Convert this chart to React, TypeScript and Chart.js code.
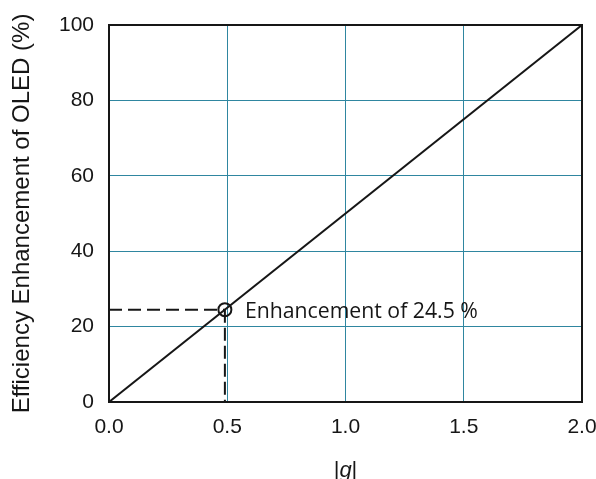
import React, { useEffect, useRef } from "react";
import { Chart, registerables } from "chart.js";

Chart.register(...registerables);

// ---- data ----
const lineX = [0, 2];
const lineY = [0, 100];
const markerX = 0.49;
const markerY = 24.5;
const xTicks = [0, 0.5, 1.0, 1.5, 2.0];
const yTicks = [0, 20, 40, 60, 80, 100];
const annotationText = "Enhancement of 24.5 %";
const yTitle = "Efficiency Enhancement of OLED (%)";
const xTitleParts = ["|", "g", "|"];

const GRID = "#2f86a0";
const INK = "#161616";
const SANS = '"Liberation Sans", Arial, sans-serif';

const overlay = {
  id: "overlay",
  afterDatasetsDraw(chart: any) {
    const { ctx, chartArea: a, scales } = chart;
    ctx.save();
    // box frame
    ctx.strokeStyle = INK;
    ctx.lineWidth = 2;
    ctx.strokeRect(a.left, a.top, a.right - a.left, a.bottom - a.top);
    // annotation
    const px = scales.x.getPixelForValue(markerX);
    const py = scales.y.getPixelForValue(markerY);
    ctx.font = '22px "Open Sans"';
    ctx.fillStyle = INK;
    ctx.textAlign = "left";
    ctx.textBaseline = "alphabetic";
    ctx.fillText(annotationText, px + 20, py + 8, 233);
    // x title |g|
    const fonts = [`22px ${SANS}`, `italic 22px ${SANS}`, `22px ${SANS}`];
    const widths = xTitleParts.map((t, i) => {
      ctx.font = fonts[i];
      return ctx.measureText(t).width;
    });
    const total = widths.reduce((s, w) => s + w, 0);
    let x = (a.left + a.right) / 2 - total / 2;
    xTitleParts.forEach((t, i) => {
      ctx.font = fonts[i];
      ctx.fillText(t, x, 477);
      x += widths[i];
    });
    ctx.restore();
  },
};

export default function App() {
  const ref = useRef<HTMLCanvasElement | null>(null);

  useEffect(() => {
    if (!ref.current) return;
    const chart = new Chart(ref.current, {
      type: "scatter",
      data: {
        datasets: [
          {
            data: lineX.map((x, i) => ({ x, y: lineY[i] })),
            showLine: true,
            borderColor: INK,
            borderWidth: 2,
            pointRadius: 0,
          },
          {
            data: [
              { x: 0, y: markerY },
              { x: markerX, y: markerY },
            ],
            showLine: true,
            borderColor: INK,
            borderWidth: 2,
            borderDash: [13, 6],
            pointRadius: 0,
          },
          {
            data: [
              { x: markerX, y: markerY },
              { x: markerX, y: 0 },
            ],
            showLine: true,
            borderColor: INK,
            borderWidth: 2,
            borderDash: [13, 5],
            pointRadius: 0,
          },
          {
            data: [{ x: markerX, y: markerY }],
            showLine: false,
            pointRadius: 6.5,
            pointBorderWidth: 2,
            pointBorderColor: INK,
            pointBackgroundColor: "rgba(0,0,0,0)",
          },
        ],
      },
      options: {
        animation: false,
        responsive: false,
        layout: { padding: { left: 0, right: 14, top: 25, bottom: 0 } },
        plugins: { legend: { display: false }, tooltip: { enabled: false } },
        scales: {
          x: {
            type: "linear",
            min: 0,
            max: 2,
            afterBuildTicks: (s: any) => {
              s.ticks = xTicks.map((v) => ({ value: v }));
            },
            ticks: {
              callback: (v: any) => Number(v).toFixed(1),
              font: { family: SANS, size: 21 },
              color: INK,
              padding: 13,
              maxRotation: 0,
              autoSkip: false,
            },
            grid: {
              color: (c: any) =>
                c.tick && (c.tick.value === 0 || c.tick.value === 2) ? "rgba(0,0,0,0)" : GRID,
              lineWidth: 1,
              drawTicks: false,
            },
            border: { display: false },
            afterFit: (s: any) => {
              s.height = 77;
              s.paddingLeft = 0;
              s.paddingRight = 0;
            },
          },
          y: {
            type: "linear",
            min: 0,
            max: 100,
            afterBuildTicks: (s: any) => {
              s.ticks = yTicks.map((v) => ({ value: v }));
            },
            ticks: {
              font: { family: SANS, size: 21 },
              color: INK,
              padding: 15,
              autoSkip: false,
            },
            grid: {
              color: (c: any) =>
                c.tick && (c.tick.value === 0 || c.tick.value === 100) ? "rgba(0,0,0,0)" : GRID,
              lineWidth: 1,
              drawTicks: false,
            },
            border: { display: false },
            title: {
              display: true,
              text: yTitle,
              font: { family: SANS, size: 24 },
              color: INK,
              padding: { top: 8, bottom: 0 },
            },
            afterFit: (s: any) => {
              s.width = 109;
              s.paddingTop = 0;
              s.paddingBottom = 0;
            },
          },
        },
      },
      plugins: [overlay],
    });
    return () => chart.destroy();
  }, []);

  return (
    <div style={{ position: "fixed", left: 0, top: 0, width: 596, height: 479, background: "#fff" }}>
      <canvas ref={ref} width={596} height={479} style={{ width: 596, height: 479, display: "block" }} />
    </div>
  );
}
